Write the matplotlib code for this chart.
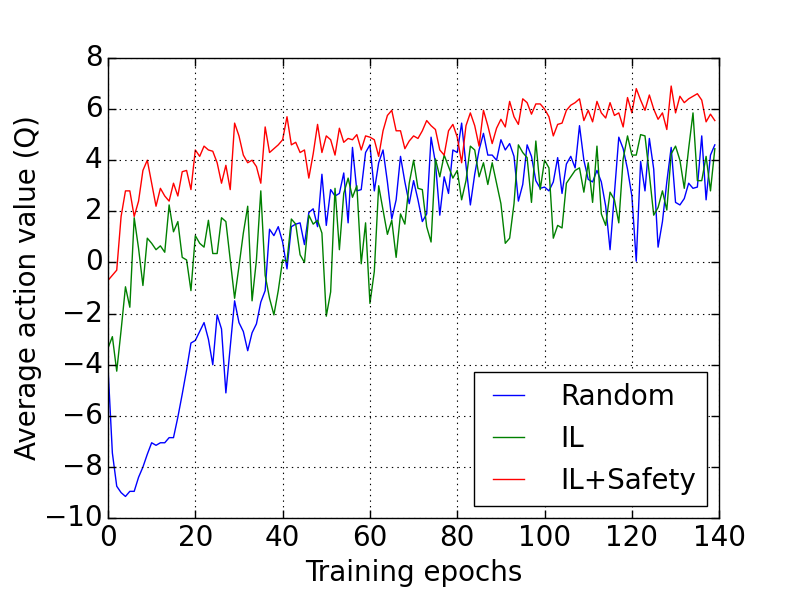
import matplotlib
matplotlib.use("Agg")
import matplotlib.pyplot as plt
import numpy as np

random_q = [-4.1, -7.45, -8.75, -9.0, -9.15, -8.95, -8.95, -8.4, -8.0, -7.5,
            -7.05, -7.15, -7.05, -7.05, -6.85, -6.85, -6.05, -5.15, -4.2, -3.15,
            -3.05, -2.7, -2.35, -3.0, -4.0, -2.05, -2.6, -5.1, -3.3, -1.5,
            -2.35, -2.7, -3.45, -2.75, -2.4, -1.55, -1.1, 1.3, 1.05, 1.4,
            0.8, -0.25, 1.4, 1.5, 1.55, 0.7, 1.95, 2.1, 1.4, 3.45,
            1.45, 2.85, 2.6, 2.7, 3.5, 1.55, 4.5, 2.8, 2.85, 4.3,
            4.6, 2.8, 3.9, 4.4, 3.15, 1.7, 2.45, 4.15, 3.15, 2.3,
            3.2, 2.45, 1.6, 1.9, 4.9, 3.9, 1.85, 3.35, 2.7, 4.4,
            4.3, 5.45, 3.8, 2.25, 3.45, 4.4, 5.05, 4.2, 4.2, 4.0,
            4.8, 4.4, 4.65, 4.15, 2.4, 3.05, 4.6, 4.15, 3.2, 2.9,
            2.95, 2.8, 3.15, 4.1, 2.7, 3.85, 4.15, 3.7, 5.35, 4.0,
            3.25, 3.15, 3.6, 3.15, 2.2, 0.5, 2.7, 4.9, 4.45, 3.65,
            2.6, 0.05, 3.95, 2.8, 4.85, 3.65, 0.6, 1.6, 3.15, 4.5,
            2.35, 2.25, 2.5, 3.1, 2.9, 2.95, 4.95, 2.45, 4.2, 4.6]

il_q = [-3.35, -2.9, -4.25, -2.65, -0.95, -1.75, 1.75, 0.55, -0.9, 0.95,
        0.75, 0.5, 0.65, 0.4, 2.25, 1.2, 1.6, 0.2, 0.1, -1.1,
        1.05, 0.75, 0.6, 1.65, 0.35, 0.35, 1.75, 1.6, 0.1, -1.4,
        -0.15, 1.15, 2.2, -1.5, 0.1, 2.8, -0.5, -1.4, -2.05, -1.1,
        0.1, 0.05, 1.7, 1.5, 0.3, 0.0, 1.85, 1.5, 1.65, 1.15,
        -2.1, -1.15, 2.9, 0.5, 2.7, 3.3, 2.55, 3.0, -0.05, 1.55,
        -1.6, -0.35, 3.0, 2.05, 1.1, 1.65, 0.2, 1.9, 1.5, 3.1,
        4.0, 2.9, 2.85, 1.4, 0.8, 4.05, 3.35, 4.2, 3.75, 3.3,
        3.6, 2.45, 3.2, 4.55, 4.4, 3.35, 3.9, 3.05, 3.9, 3.1,
        2.3, 0.75, 0.95, 2.3, 4.6, 4.3, 4.1, 2.35, 4.75, 2.85,
        4.0, 3.7, 0.95, 1.45, 1.35, 3.1, 3.35, 3.6, 3.7, 2.75,
        3.9, 2.35, 4.55, 1.9, 1.45, 2.75, 2.45, 1.55, 4.05, 4.95,
        4.2, 4.2, 5.0, 4.95, 3.45, 1.85, 2.15, 2.8, 2.05, 4.25,
        4.55, 4.0, 2.9, 4.45, 5.85, 3.2, 3.2, 4.15, 2.8, 4.45]

il_safety_q = [-0.7, -0.5, -0.3, 1.8, 2.8, 2.8, 1.8, 2.4, 3.6, 4.0,
               3.1, 2.2, 2.9, 2.6, 2.4, 3.1, 2.6, 3.55, 3.6, 2.85,
               4.4, 4.15, 4.55, 4.4, 4.35, 3.9, 3.1, 3.8, 2.85, 5.45,
               4.95, 4.2, 3.9, 4.0, 3.75, 3.1, 5.3, 4.3, 4.45, 4.6,
               4.8, 5.7, 4.6, 4.7, 4.3, 4.4, 3.3, 4.25, 5.4, 4.3,
               4.95, 4.8, 4.2, 5.25, 4.7, 4.85, 4.8, 5.0, 4.4, 4.95,
               4.9, 4.8, 4.15, 5.15, 5.75, 5.95, 5.15, 5.15, 4.45, 4.75,
               4.95, 4.85, 5.15, 5.55, 5.35, 5.2, 4.4, 4.2, 5.15, 5.4,
               4.9, 3.9, 5.35, 5.85, 5.35, 4.55, 5.95, 5.35, 4.65, 5.25,
               5.6, 5.3, 6.3, 5.7, 5.4, 6.4, 6.25, 5.8, 6.2, 6.2,
               6.0, 5.7, 4.95, 5.4, 5.45, 5.95, 6.15, 6.25, 6.4, 5.55,
               5.95, 5.5, 6.3, 5.85, 5.65, 6.25, 5.75, 5.85, 5.3, 6.45,
               5.85, 6.8, 6.35, 5.95, 6.55, 6.0, 5.6, 5.85, 5.2, 6.9,
               5.85, 6.5, 6.25, 6.4, 6.5, 6.6, 6.35, 5.5, 5.8, 5.55]

series_labels = ["Random", "IL", "IL+Safety"]
epochs = np.arange(len(random_q))

plt.style.use("classic")
plt.rcParams["font.family"] = ["DejaVu Sans"]
plt.rcParams["font.size"] = 20

fig = plt.figure(figsize=(8.0, 5.97), dpi=100, facecolor="white")
ax = fig.add_axes([0.135, 0.132, 0.764, 0.771])

ax.plot(epochs, random_q, color="b", lw=1.0, label=series_labels[0])
ax.plot(epochs, il_q, color="g", lw=1.0, label=series_labels[1])
ax.plot(epochs, il_safety_q, color="r", lw=1.0, label=series_labels[2])

ax.set_xlim(0, 140)
ax.set_ylim(-10, 8)
ax.set_xticks(np.arange(0, 141, 20))
ax.set_yticks(np.arange(-10, 9, 2))
ax.grid(True, color="black", linestyle=":", linewidth=0.8)
ax.tick_params(direction="in", length=6, width=1, labelsize=20, top=True, right=True)
ax.set_xlabel("Training epochs", fontsize=20)
ax.set_ylabel("Average action value (Q)", fontsize=20, labelpad=1.5)

leg = ax.legend(loc="lower right", fontsize=20, handlelength=1.7,
                handletextpad=1.0, borderaxespad=0.45, fancybox=False)
leg.get_frame().set_linewidth(1.0)
leg.get_frame().set_edgecolor("black")

fig.savefig("out.png", dpi=100, facecolor="white")
